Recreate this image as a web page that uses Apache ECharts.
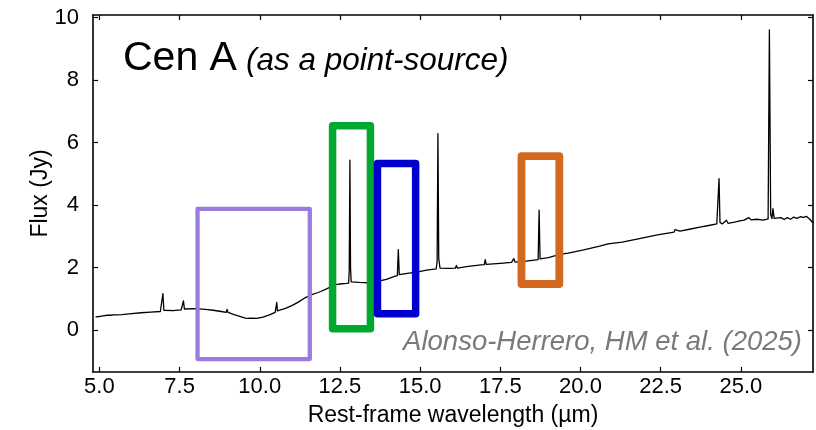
<!DOCTYPE html>
<html>
<head>
<meta charset="utf-8">
<script src="https://cdn.jsdelivr.net/npm/echarts@6/dist/echarts.min.js"></script>
<style>
html,body{margin:0;padding:0;background:#fff;}
#chart{width:816px;height:430px;}
</style>
</head>
<body>
<div id="chart"></div>
<script>
// Spectrum: rest-frame wavelength (µm) and flux (Jy)
const wavelength = [
  4.88, 5.00, 5.10, 5.25, 5.30, 5.34, 5.45, 5.51, 5.55, 5.70,
  6.00, 6.30, 6.60, 6.90, 6.95, 6.98, 7.01, 7.05, 7.30, 7.55,
  7.60, 7.62, 7.65, 7.70, 8.00, 8.30, 8.55, 8.80, 8.95, 8.98,
  9.01, 9.20, 9.40, 9.55, 9.62, 9.65, 9.68, 9.72, 9.75, 9.90,
  10.10, 10.30, 10.48, 10.51, 10.53, 10.55, 10.60, 10.80, 11.00, 11.20,
  11.40, 11.60, 11.80, 11.90, 12.10, 12.30, 12.50, 12.70, 12.77, 12.79,
  12.81, 12.83, 12.85, 12.90, 13.10, 13.13, 13.16, 13.40, 13.70, 13.95,
  13.98, 14.01, 14.20, 14.29, 14.32, 14.35, 14.60, 14.90, 15.20, 15.50,
  15.53, 15.555, 15.58, 15.62, 15.90, 16.10, 16.13, 16.16, 16.50, 16.90,
  17.00, 17.03, 17.06, 17.50, 17.85, 17.92, 17.96, 18.30, 18.68, 18.71,
  18.74, 19.00, 19.30, 19.55, 19.58, 19.62, 20.10, 20.60, 20.86, 20.90,
  21.30, 21.80, 22.40, 22.92, 22.95, 22.98, 23.10, 23.40, 23.72, 24.00,
  24.25, 24.30, 24.32, 24.35, 24.42, 24.55, 24.60, 24.80, 24.97, 25.10,
  25.25, 25.32, 25.50, 25.70, 25.85, 25.89, 25.93, 25.97, 26.00, 26.04,
  26.10, 26.25, 26.35, 26.45, 26.55, 26.65, 26.75, 26.85, 26.95, 27.05,
  27.15, 27.25
];
const flux = [
  0.43, 0.44, 0.46, 0.48, 0.50, 0.48, 0.49, 0.51, 0.49, 0.50,
  0.53, 0.56, 0.58, 0.60, 0.62, 1.17, 0.64, 0.61, 0.63, 0.65,
  0.70, 0.94, 0.68, 0.66, 0.69, 0.67, 0.64, 0.60, 0.57, 0.67,
  0.57, 0.50, 0.44, 0.39, 0.38, 0.40, 0.37, 0.39, 0.37, 0.38,
  0.42, 0.49, 0.57, 0.60, 0.89, 0.62, 0.62, 0.70, 0.79, 0.90,
  1.03, 1.13, 1.20, 1.24, 1.33, 1.44, 1.48, 1.50, 1.51, 1.90,
  5.44, 2.00, 1.55, 1.51, 1.53, 1.58, 1.52, 1.52, 1.57, 1.63,
  1.67, 1.64, 1.72, 1.75, 2.58, 1.78, 1.82, 1.86, 1.92, 1.96,
  2.20, 6.29, 2.30, 1.99, 1.98, 1.99, 2.07, 1.99, 2.04, 2.09,
  2.10, 2.26, 2.11, 2.14, 2.17, 2.29, 2.18, 2.21, 2.26, 3.84,
  2.28, 2.32, 2.41, 2.46, 2.52, 2.47, 2.57, 2.69, 2.76, 2.72,
  2.82, 2.92, 3.05, 3.14, 3.22, 3.16, 3.17, 3.23, 3.30, 3.35,
  3.40, 3.45, 4.85, 3.45, 3.40, 3.52, 3.42, 3.46, 3.50, 3.52,
  3.60, 3.53, 3.55, 3.52, 3.56, 9.60, 3.70, 3.57, 3.89, 3.58,
  3.55, 3.60, 3.54, 3.60, 3.55, 3.62, 3.58, 3.63, 3.61, 3.64,
  3.55, 3.43
];

// Highlight boxes: [xLeft, xRight, yBottom, yTop] in data units
const boxNames   = ['silicate', 'NeII', 'NeV', 'SIII'];
const boxExtents = [
  [8.06, 11.56, -0.92, 3.88],
  [12.27, 13.45, 0.05, 6.54],
  [13.67, 14.86, 0.53, 5.33],
  [18.16, 19.34, 1.48, 5.57]
];
const boxColors = ['#9b7be0', '#00a832', '#0000cc', '#d2691e'];
const boxWidths = [4.3, 7.5, 7.5, 7.8];

const xTicks = [5.0, 7.5, 10.0, 12.5, 15.0, 17.5, 20.0, 22.5, 25.0];
const yTicks = [0, 2, 4, 6, 8, 10];
const xRange = [4.8, 27.25];
const yRange = [-1.334, 10.08];

const FONT = '"Liberation Sans", Arial, Helvetica, sans-serif';

const spectrum = wavelength.map((w, i) => [w, flux[i]]);

const boxSeries = boxExtents.map((b, i) => ({
  name: boxNames[i],
  type: 'line',
  data: [[b[0], b[2]], [b[1], b[2]], [b[1], b[3]], [b[0], b[3]], [b[0], b[2]]],
  showSymbol: false,
  symbol: 'none',
  z: 5,
  silent: true,
  lineStyle: { color: boxColors[i], width: boxWidths[i], join: 'round', cap: 'round' }
}));

const chart = echarts.init(document.getElementById('chart'), null, { renderer: 'canvas' });

const axisCommon = {
  type: 'value',
  splitLine: { show: false },
  axisLine: { show: true, onZero: false, lineStyle: { color: '#000', width: 1.6 } },
};

chart.setOption({
  animation: false,
  backgroundColor: '#fff',
  grid: { left: 93, right: 3, top: 15, bottom: 58, containLabel: false, outerBoundsMode: 'none' },
  xAxis: [
    Object.assign({}, axisCommon, {
      min: xRange[0], max: xRange[1], position: 'bottom',
      name: 'Rest-frame wavelength (µm)', nameLocation: 'middle', nameGap: 32, nameMoveOverlap: false,
      nameTextStyle: { fontFamily: FONT, fontSize: 23, color: '#000' },
      axisTick: { inside: true, length: 5, customValues: xTicks, lineStyle: { color: '#000', width: 1.2 } },
      axisLabel: { customValues: xTicks, formatter: v => v.toFixed(1), fontFamily: FONT, fontSize: 22, color: '#000', margin: 4 }
    }),
    Object.assign({}, axisCommon, {
      min: xRange[0], max: xRange[1], position: 'top',
      axisTick: { inside: true, length: 5, customValues: xTicks, lineStyle: { color: '#000', width: 1.2 } },
      axisLabel: { show: false }
    })
  ],
  yAxis: [
    Object.assign({}, axisCommon, {
      min: yRange[0], max: yRange[1], position: 'left',
      name: 'Flux (Jy)', nameLocation: 'middle', nameGap: 41, nameRotate: 90, nameMoveOverlap: false,
      nameTextStyle: { fontFamily: FONT, fontSize: 23, color: '#000' },
      axisTick: { inside: true, length: 5, customValues: yTicks, lineStyle: { color: '#000', width: 1.2 } },
      axisLabel: { customValues: yTicks, formatter: v => String(v), fontFamily: FONT, fontSize: 22, color: '#000', margin: 14 }
    }),
    Object.assign({}, axisCommon, {
      min: yRange[0], max: yRange[1], position: 'right',
      axisTick: { inside: true, length: 5, customValues: yTicks, lineStyle: { color: '#000', width: 1.2 } },
      axisLabel: { show: false }
    })
  ],
  series: [
    {
      name: 'Cen A',
      type: 'line',
      data: spectrum,
      showSymbol: false,
      symbol: 'none',
      z: 3,
      silent: true,
      lineStyle: { color: '#000', width: 1.3, join: 'round' }
    }
  ].concat(boxSeries),
  graphic: [
    { type: 'text', x: 123, y: 59, style: { text: 'Cen A', font: '41px ' + FONT, fill: '#000', verticalAlign: 'middle', align: 'left' } },
    { type: 'text', x: 246, y: 61, style: { text: '(as a point-source)', font: 'italic 31.5px ' + FONT, fill: '#000', verticalAlign: 'middle', align: 'left' } },
    { type: 'text', x: 802, y: 342, style: { text: 'Alonso-Herrero, HM et al. (2025)', font: 'italic 27.5px ' + FONT, fill: '#7a7a7a', verticalAlign: 'middle', align: 'right' } }
  ]
});
</script>
</body>
</html>
